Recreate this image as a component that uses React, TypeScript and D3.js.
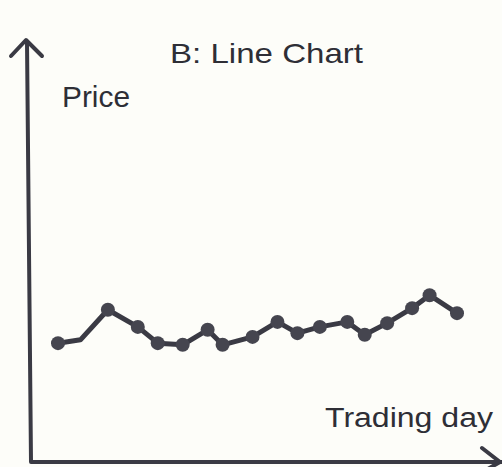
import React, { useEffect, useRef } from 'react';
import * as d3 from 'd3';

// trading day index and price
const days = [0, 0.9, 2, 3.2, 4, 5, 6, 6.6, 7.8, 8.8, 9.6, 10.5, 11.6, 12.3, 13.2, 14.2, 14.9, 16];
const prices = [28.5, 29.3, 36.5, 32.4, 28.5, 28.1, 31.7, 28.1, 30, 33.6, 30.9, 32.4, 33.6, 30.5, 33.3, 36.9, 40, 35.7];
// the second point is only a bend in the line, no dot drawn there
const hasDot = [true, false, true, true, true, true, true, true, true, true, true, true, true, true, true, true, true, true];

const title = 'B: Line Chart';
const yLabel = 'Price';
const xLabel = 'Trading day';

const W = 502;
const H = 467;

const App = () => {
  const svgRef = useRef<SVGSVGElement>(null);

  useEffect(() => {
    const svg = d3.select(svgRef.current);
    svg.selectAll('*').remove();

    const ink = '#3a3a44';
    const font = 'Liberation Sans, Arial, sans-serif';

    svg.append('rect').attr('width', W).attr('height', H).attr('fill', '#fdfdf9');

    const xScale = d3.scaleLinear().domain([0, 16]).range([58, 457]);
    const yScale = d3.scaleLinear().domain([0, 100]).range([462, 45]);

    // axes (hand-drawn style arrows)
    const ax = svg.append('g').attr('stroke', ink).attr('fill', 'none')
      .attr('stroke-width', 4).attr('stroke-linecap', 'round').attr('stroke-linejoin', 'round');
    ax.append('path').attr('d', 'M27,42 L31,462 L502,462');
    ax.append('path').attr('d', 'M11,56 L26,40 L42,56');
    ax.append('path').attr('d', 'M482,448 L500,462 L486,470');

    const pts = days.map((d, i) => [xScale(d), yScale(prices[i])] as [number, number]);

    svg.append('path')
      .attr('d', d3.line()(pts))
      .attr('fill', 'none')
      .attr('stroke', ink)
      .attr('stroke-width', 5)
      .attr('stroke-linejoin', 'round');

    svg.append('g')
      .selectAll('circle')
      .data(pts.filter((_, i) => hasDot[i]))
      .enter()
      .append('circle')
      .attr('cx', (d) => d[0])
      .attr('cy', (d) => d[1])
      .attr('r', 7)
      .attr('fill', '#45454f');

    const txt = (s, x, y, size, len) =>
      svg.append('text')
        .attr('x', x).attr('y', y)
        .attr('font-family', font).attr('font-size', size)
        .attr('fill', '#2e2e36')
        .attr('textLength', len).attr('lengthAdjust', 'spacingAndGlyphs')
        .text(s);

    txt(title, 170, 63, 28, 193);
    txt(yLabel, 62, 107, 29, 68);
    txt(xLabel, 325, 427, 27, 168);
  }, []);

  return (
    <svg ref={svgRef} width={W} height={H} style={{ position: 'absolute', left: 0, top: 0 }}></svg>
  );
};

export default App;
